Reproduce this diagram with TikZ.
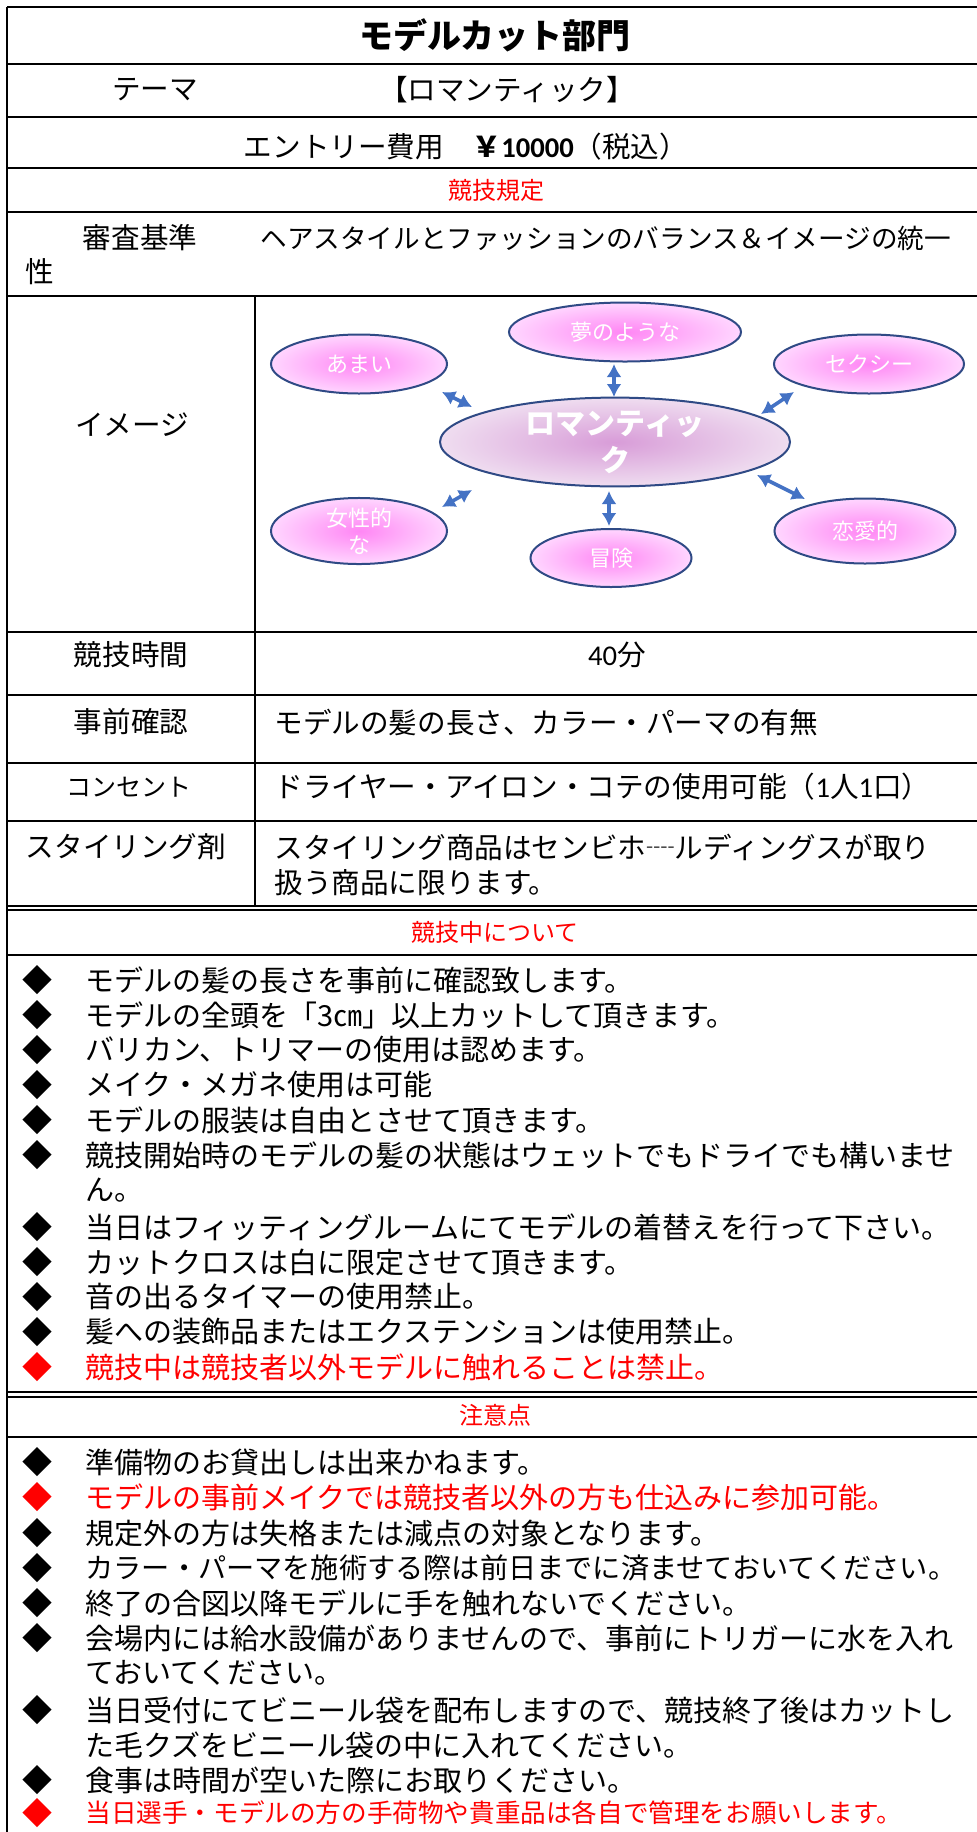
\documentclass[tikz,border=0pt]{standalone}
\usepackage{fontspec}
\usepackage{xcolor}
\usepackage{tikz}
\setmainfont{Noto Sans CJK JP}
\newfontfamily\numfont{Carlito}
\usetikzlibrary{
    shapes.geometric,
    arrows.meta
}
\definecolor{moodin}{HTML}{FF86F4}
\definecolor{moodout}{HTML}{FFD6FF}
\definecolor{corein}{HTML}{D89CD8}
\definecolor{coreout}{HTML}{EFDDF0}
\definecolor{moodline}{HTML}{2F4A85}
\definecolor{linkblue}{HTML}{4472C4}

\begin{document}
\begin{tikzpicture}[x=0.5pt,y=-0.5pt,
    rule/.style={line width=1pt},
    cell/.style={font=\fontsize{14.3}{17}\selectfont},
    lcell/.style={cell,anchor=west},
    part/.style={text=red,font=\fontsize{12}{14}\selectfont},
    item/.style={anchor=west,font=\fontsize{14.5}{17}\selectfont},
    dia/.style={font=\fontsize{15}{17}\selectfont},
    mood/.style={ellipse,draw=moodline,line width=1pt,inner color=moodin,outer color=moodout,
        text=white,align=center,font=\fontsize{11}{13.5}\selectfont},
    link/.style={draw=linkblue,line width=1.8pt,{Latex[length=6.5pt,width=7.5pt]}-{Latex[length=6.5pt,width=7.5pt]}}]
    \tikzstyle{every node}=[inner sep=0pt]

    \useasboundingbox (0,0) rectangle (977,1832);

    \foreach \y in {7,64,117,168,212,296,632,695,763,821,906,910,955,1392,1397,1437}
        \draw[rule] (7,\y) -- (977,\y);
    \draw[rule] (7,7) -- (7,1832);
    \draw[rule] (255,296) -- (255,906);

    \node[font=\fontsize{17}{20}\selectfont\bfseries] (title) at (495,35) {モデルカット部門};
    \node[cell] (theme) at (155,90) {テーマ};
    \node[cell] (themev) at (507,90) {【ロマンティック】};
    \node[cell] (fee) at (466,147) {エントリー費用　\textbf{￥{\numfont 10000}}（税込）};
    \node[part] (rules) at (496,190) {競技規定};
    \node[cell] (judge) at (140,238) {審査基準};
    \node[lcell,font=\fontsize{13.3}{17}\selectfont] (judgev) at (260,238) {ヘアスタイルとファッションのバランス＆イメージの統一};
    \node[lcell] (judgev2) at (25,272) {性};

    \node[cell] (image) at (132,425) {イメージ};
    \node[ellipse,draw=moodline,line width=1pt,inner color=corein,outer color=coreout,
        minimum width=175pt,minimum height=43pt,text=white,align=center,
        font=\fontsize{15}{18.5}\selectfont\bfseries] (roman) at (615,442) {ロマンティッ\\ク};
    \node[mood,minimum width=88pt,minimum height=29.5pt] (amai) at (359,364) {あまい};
    \node[mood,minimum width=116pt,minimum height=29.5pt] (yume) at (625,332) {夢のような};
    \node[mood,minimum width=95pt,minimum height=29.5pt] (sexy) at (869,364) {セクシー};
    \node[mood,minimum width=88pt,minimum height=32.5pt] (femi) at (359,531) {女性的\\な};
    \node[mood,minimum width=80.5pt,minimum height=29pt] (bouken) at (611,558) {冒険};
    \node[mood,minimum width=90.5pt,minimum height=32.5pt] (renai) at (865,531) {恋愛的};

    \coordinate (amaiend) at (442,392);
    \coordinate (amaicore) at (472,407);
    \coordinate (yumeend) at (614,364);
    \coordinate (yumecore) at (614,397);
    \coordinate (sexyend) at (794,392);
    \coordinate (sexycore) at (761,414);
    \coordinate (femiend) at (442,507);
    \coordinate (femicore) at (472,490);
    \coordinate (boukenend) at (609,526);
    \coordinate (boukencore) at (609,491);
    \coordinate (renaiend) at (805,499);
    \coordinate (renaicore) at (757,475);
    \draw[link] (amaiend) -- (amaicore);
    \draw[link] (yumeend) -- (yumecore);
    \draw[link] (sexyend) -- (sexycore);
    \draw[link] (femiend) -- (femicore);
    \draw[link] (boukenend) -- (boukencore);
    \draw[link] (renaiend) -- (renaicore);

    \node[cell] (time) at (131,655) {競技時間};
    \node[cell] (timev) at (617,655) {{\numfont 40}分};
    \node[cell] (check) at (131,722) {事前確認};
    \node[lcell] (checkv) at (274,722) {モデルの髪の長さ、カラー・パーマの有無};
    \node[font=\fontsize{12.5}{15}\selectfont] (plug) at (129,787) {コンセント};
    \node[lcell] (plugv) at (274,787) {ドライヤー・アイロン・コテの使用可能（{\numfont 1}人{\numfont 1}口）};
    \node[cell] (styling) at (126,847) {スタイリング剤};
    \node[lcell] (stylingv) at (274,847) {スタイリング商品はセンビホ┈ルディングスが取り};
    \node[lcell] (stylingv2) at (274,883) {扱う商品に限ります。};

    \node[part] (during) at (495,932) {競技中について};
    \foreach \y in {980,1015,1050,1085,1120,1155,1227,1262,1297,1332}
        \node[dia] (dot\y) at (38,\y) {◆};
    \node[dia,text=red] (dot1367) at (38,1367) {◆};
    \node[item] (d1) at (85,980) {モデルの髪の長さを事前に確認致します。};
    \node[item] (d2) at (85,1015) {モデルの全頭を「3㎝」以上カットして頂きます。};
    \node[item] (d3) at (85,1050) {バリカン、トリマーの使用は認めます。};
    \node[item] (d4) at (85,1085) {メイク・メガネ使用は可能};
    \node[item] (d5) at (85,1120) {モデルの服装は自由とさせて頂きます。};
    \node[item] (d6) at (85,1155) {競技開始時のモデルの髪の状態はウェットでもドライでも構いませ};
    \node[item] (d6b) at (85,1190) {ん。};
    \node[item] (d7) at (85,1227) {当日はフィッティングルームにてモデルの着替えを行って下さい。};
    \node[item] (d8) at (85,1262) {カットクロスは白に限定させて頂きます。};
    \node[item] (d9) at (85,1297) {音の出るタイマーの使用禁止。};
    \node[item] (d10) at (85,1332) {髪への装飾品またはエクステンションは使用禁止。};
    \node[item,text=red] (d11) at (85,1367) {競技中は競技者以外モデルに触れることは禁止。};

    \node[part] (notes) at (495,1415) {注意点};
    \foreach \y in {1462,1533,1568,1603,1638,1710,1780}
        \node[dia] (dot\y) at (38,\y) {◆};
    \node[dia,text=red] (dot1497) at (38,1497) {◆};
    \node[dia,text=red] (dot1813) at (38,1813) {◆};
    \node[item] (n1) at (85,1462) {準備物のお貸出しは出来かねます。};
    \node[item,text=red] (n2) at (85,1497) {モデルの事前メイクでは競技者以外の方も仕込みに参加可能。};
    \node[item] (n3) at (85,1533) {規定外の方は失格または減点の対象となります。};
    \node[item,font=\fontsize{14.1}{17}\selectfont] (n4) at (85,1568) {カラー・パーマを施術する際は前日までに済ませておいてください。};
    \node[item] (n5) at (85,1603) {終了の合図以降モデルに手を触れないでください。};
    \node[item] (n6) at (85,1638) {会場内には給水設備がありませんので、事前にトリガーに水を入れ};
    \node[item] (n6b) at (85,1673) {ておいてください。};
    \node[item] (n7) at (85,1710) {当日受付にてビニール袋を配布しますので、競技終了後はカットし};
    \node[item] (n7b) at (85,1745) {た毛クズをビニール袋の中に入れてください。};
    \node[item] (n8) at (85,1780) {食事は時間が空いた際にお取りください。};
    \node[item,text=red,font=\fontsize{12.8}{15}\selectfont] (n9) at (85,1813) {当日選手・モデルの方の手荷物や貴重品は各自で管理をお願いします。};
\end{tikzpicture}
\end{document}
